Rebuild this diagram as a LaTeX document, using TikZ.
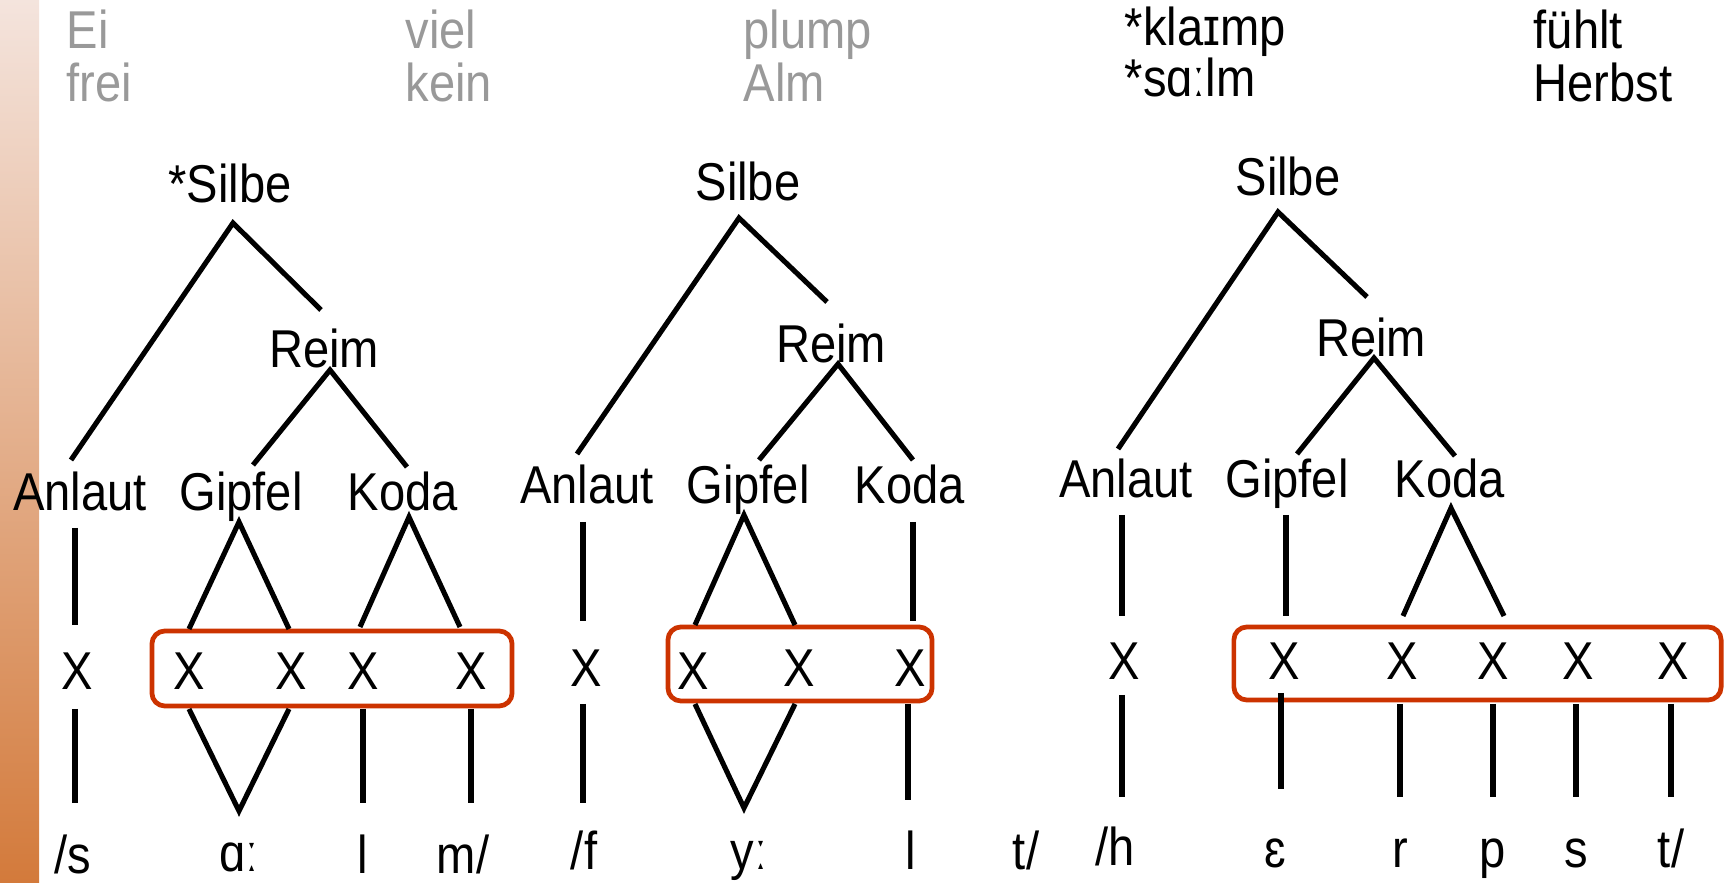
\documentclass[tikz,border=0pt]{standalone}
\usepackage{fontspec}
\setmainfont{Liberation Sans}
\usepackage{graphicx}
\definecolor{boxred}{HTML}{CC3300}
\definecolor{grayt}{HTML}{999999}
\definecolor{bartop}{HTML}{F4E4DD}
\definecolor{barbot}{HTML}{D37A3B}
\newcommand\vs[1]{\scalebox{1}[1.13]{#1}}
\begin{document}
\begin{tikzpicture}[x=0.01cm,y=-0.01cm,
  lbl/.style={inner sep=0pt, anchor=base, font=\fontsize{13.4pt}{16pt}\selectfont},
  toptxt/.style={inner sep=0pt, anchor=base west, font=\fontsize{13.4pt}{16pt}\selectfont},
  ln/.style={line width=1.45pt},
  rbox/.style={draw=boxred, line width=1.35pt, rounded corners=0.13cm, inner sep=0pt}]
\useasboundingbox (0,0) rectangle (1724,883);
\shade[top color=bartop, bottom color=barbot] (0,0) rectangle (39,883);

% top words
\node[toptxt, text=grayt] (w1a) at (66,49) {\vs{Ei}};
\node[toptxt, text=grayt] (w1b) at (66,102) {\vs{frei}};
\node[toptxt, text=grayt] (w2a) at (405,49) {\vs{viel}};
\node[toptxt, text=grayt] (w2b) at (405,102) {\vs{kein}};
\node[toptxt, text=grayt] (w3a) at (743,49) {\vs{plump}};
\node[toptxt, text=grayt] (w3b) at (743,102) {\vs{Alm}};
\node[toptxt] (w4a) at (1124,46) {\vs{*klaɪmp}};
\node[toptxt] (w4b) at (1124,97) {\vs{*sɑːlm}};
\node[toptxt] (w5a) at (1533,49) {\vs{fühlt}};
\node[toptxt] (w5b) at (1533,102) {\vs{Herbst}};

% ---------- tree 1
\node[lbl] (s1) at (230,203) {\vs{*Silbe}};
\node[lbl] (r1) at (324,368) {\vs{Reim}};
\node[lbl] (a1) at (80,511) {\vs{Anlaut}};
\node[lbl] (g1) at (241,511) {\vs{Gipfel}};
\node[lbl] (k1) at (403,511) {\vs{Koda}};
\node[lbl] (x1a) at (77,690) {\vs{X}};
\node[lbl] (x1b) at (189,690) {\vs{X}};
\node[lbl] (x1c) at (291,690) {\vs{X}};
\node[lbl] (x1d) at (363,690) {\vs{X}};
\node[lbl] (x1e) at (471,690) {\vs{X}};
\node[rbox, minimum width=3.6cm, minimum height=0.75cm] (b1) at (332,668.5) {};
\node[lbl] (p1a) at (73,874) {\vs{/s}};
\node[lbl] (p1b) at (239,872) {\vs{ɑː}};
\node[lbl] (p1c) at (363,874) {\vs{l}};
\node[lbl] (p1d) at (463,874) {\vs{m/}};
\path (233,223) coordinate (s1b) (71,460) coordinate (a1t) (321,310) coordinate (r1t)
      (330,370) coordinate (r1b) (253,465) coordinate (g1t) (407,467) coordinate (k1t)
      (75,528) coordinate (a1b) (75,625) coordinate (x1at) (75,709) coordinate (x1ab) (75,803) coordinate (p1at)
      (239,522) coordinate (g1b) (189,629) coordinate (x1bt) (289,629) coordinate (x1ct)
      (189,709) coordinate (x1bb) (289,709) coordinate (x1cb) (239,811) coordinate (p1bt)
      (409,517) coordinate (k1b) (360,627) coordinate (x1dt) (460,627) coordinate (x1et)
      (363,709) coordinate (x1db) (363,803) coordinate (p1ct) (471,709) coordinate (x1eb) (471,803) coordinate (p1dt);
\draw[ln] (a1t) -- (s1b) -- (r1t);
\draw[ln] (g1t) -- (r1b) -- (k1t);
\draw[ln] (a1b) -- (x1at);
\draw[ln] (x1bt) -- (g1b) -- (x1ct);
\draw[ln] (x1dt) -- (k1b) -- (x1et);
\draw[ln] (x1ab) -- (p1at);
\draw[ln] (x1bb) -- (p1bt) -- (x1cb);
\draw[ln] (x1db) -- (p1ct);
\draw[ln] (x1eb) -- (p1dt);

% ---------- tree 2
\node[lbl] (s2) at (748,201) {\vs{Silbe}};
\node[lbl] (r2) at (831,363) {\vs{Reim}};
\node[lbl] (a2) at (587,504) {\vs{Anlaut}};
\node[lbl] (g2) at (748,504) {\vs{Gipfel}};
\node[lbl] (k2) at (910,504) {\vs{Koda}};
\node[lbl] (x2a) at (586,687) {\vs{X}};
\node[lbl] (x2b) at (693,690) {\vs{X}};
\node[lbl] (x2c) at (799,687) {\vs{X}};
\node[lbl] (x2d) at (910,687) {\vs{X}};
\node[rbox, minimum width=2.64cm, minimum height=0.74cm] (b2) at (800,664) {};
\node[lbl] (p2a) at (584,870) {\vs{/f}};
\node[lbl] (p2b) at (749,870) {\vs{yː}};
\node[lbl] (p2c) at (911,870) {\vs{l}};
\node[lbl] (p2d) at (1026,870) {\vs{t/}};
\path (739,218) coordinate (s2b) (577,454) coordinate (a2t) (827,302) coordinate (r2t)
      (838,364) coordinate (r2b) (759,460) coordinate (g2t) (913,460) coordinate (k2t)
      (583,522) coordinate (a2b) (583,621) coordinate (x2at) (583,704) coordinate (x2ab) (583,803) coordinate (p2at)
      (744,515) coordinate (g2b) (695,625) coordinate (x2bt) (795,625) coordinate (x2ct)
      (695,704) coordinate (x2bb) (795,704) coordinate (x2cb) (744,808) coordinate (p2bt)
      (913,522) coordinate (k2b) (913,621) coordinate (x2dt) (908,704) coordinate (x2db) (908,800) coordinate (p2ct);
\draw[ln] (a2t) -- (s2b) -- (r2t);
\draw[ln] (g2t) -- (r2b) -- (k2t);
\draw[ln] (a2b) -- (x2at);
\draw[ln] (x2bt) -- (g2b) -- (x2ct);
\draw[ln] (k2b) -- (x2dt);
\draw[ln] (x2ab) -- (p2at);
\draw[ln] (x2bb) -- (p2bt) -- (x2cb);
\draw[ln] (x2db) -- (p2ct);

% ---------- tree 3
\node[lbl] (s3) at (1288,196) {\vs{Silbe}};
\node[lbl] (r3) at (1371,357) {\vs{Reim}};
\node[lbl] (a3) at (1126,498) {\vs{Anlaut}};
\node[lbl] (g3) at (1287,498) {\vs{Gipfel}};
\node[lbl] (k3) at (1450,498) {\vs{Koda}};
\node[lbl] (x3a) at (1124,680) {\vs{X}};
\node[lbl] (x3b) at (1284,680) {\vs{X}};
\node[lbl] (x3c) at (1402,680) {\vs{X}};
\node[lbl] (x3d) at (1493,680) {\vs{X}};
\node[lbl] (x3e) at (1578,680) {\vs{X}};
\node[lbl] (x3f) at (1673,680) {\vs{X}};
\node[rbox, minimum width=4.87cm, minimum height=0.73cm] (b3) at (1477.5,663.5) {};
\node[lbl] (p3a) at (1115,866) {\vs{/h}};
\node[lbl] (p3b) at (1275,868) {\vs{ɛ}};
\node[lbl] (p3c) at (1400,868) {\vs{r}};
\node[lbl] (p3d) at (1493,868) {\vs{p}};
\node[lbl] (p3e) at (1576,868) {\vs{s}};
\node[lbl] (p3f) at (1671,868) {\vs{t/}};
\path (1278,212) coordinate (s3b) (1118,449) coordinate (a3t) (1367,297) coordinate (r3t)
      (1374,358) coordinate (r3b) (1297,454) coordinate (g3t) (1455,456) coordinate (k3t)
      (1122,515) coordinate (a3b) (1122,616) coordinate (x3at) (1122,695) coordinate (x3ab) (1122,797) coordinate (p3at)
      (1286,515) coordinate (g3b) (1286,616) coordinate (x3bt) (1281,693) coordinate (x3bb) (1281,789) coordinate (p3bt)
      (1451,508) coordinate (k3b) (1403,616) coordinate (x3ct) (1504,616) coordinate (x3dt)
      (1400,704) coordinate (x3cb) (1400,797) coordinate (p3ct)
      (1493,704) coordinate (x3db) (1493,797) coordinate (p3dt)
      (1576,704) coordinate (x3eb) (1576,797) coordinate (p3et)
      (1671,704) coordinate (x3fb) (1671,797) coordinate (p3ft);
\draw[ln] (a3t) -- (s3b) -- (r3t);
\draw[ln] (g3t) -- (r3b) -- (k3t);
\draw[ln] (a3b) -- (x3at);
\draw[ln] (g3b) -- (x3bt);
\draw[ln] (x3ct) -- (k3b) -- (x3dt);
\draw[ln] (x3ab) -- (p3at);
\draw[ln] (x3bb) -- (p3bt);
\draw[ln] (x3cb) -- (p3ct);
\draw[ln] (x3db) -- (p3dt);
\draw[ln] (x3eb) -- (p3et);
\draw[ln] (x3fb) -- (p3ft);
\end{tikzpicture}
\end{document}
